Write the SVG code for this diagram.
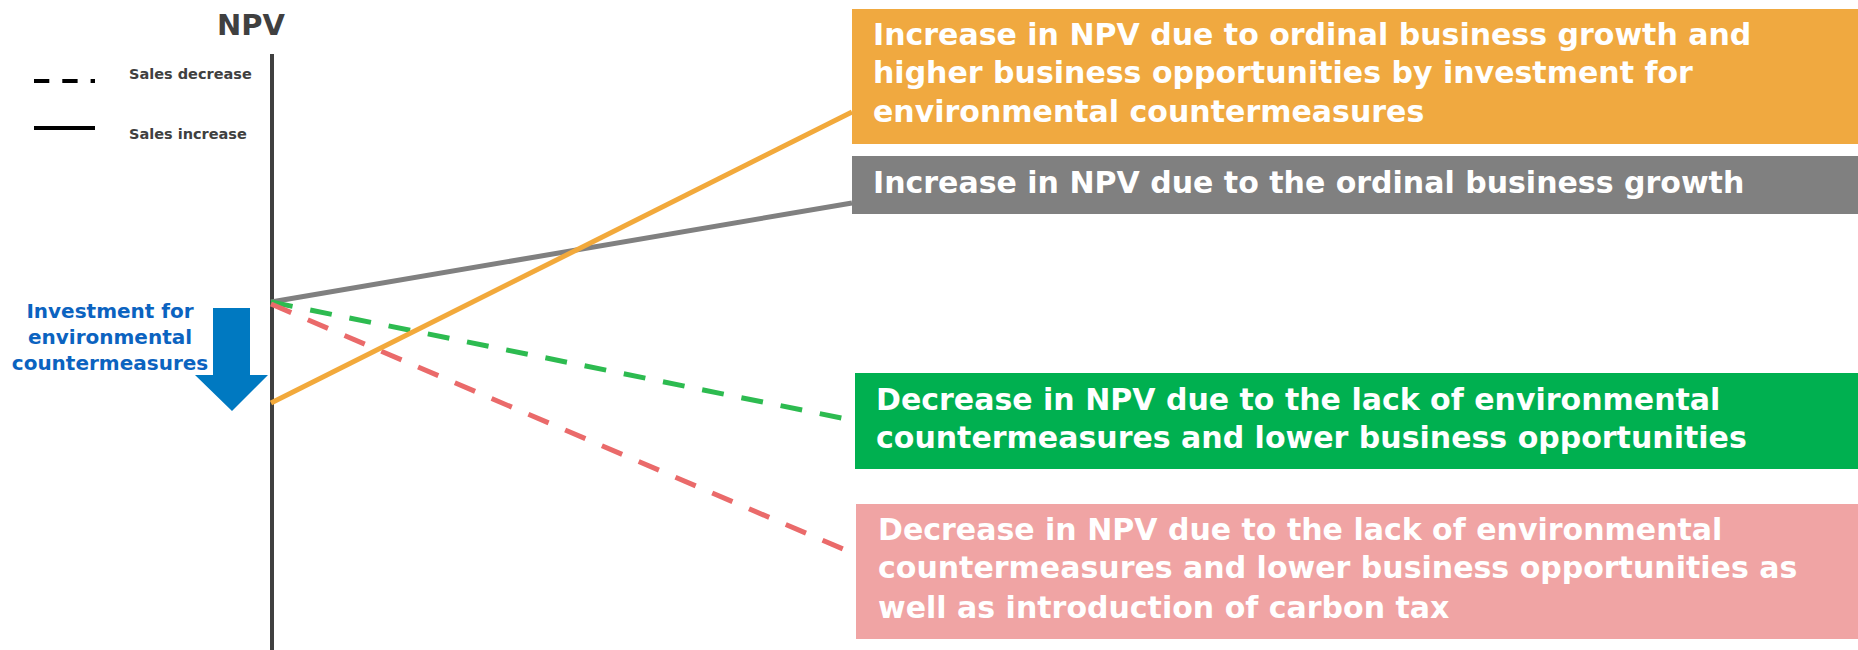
<svg xmlns="http://www.w3.org/2000/svg" width="1858" height="650" viewBox="0 0 1858 650">
<style>
.t{font-family:"DejaVu Sans","Verdana",sans-serif;font-weight:bold}
.box{font-family:"DejaVu Sans","Verdana",sans-serif;font-weight:bold;font-size:30px;fill:#ffffff}
.leg{font-size:14.5px;fill:#404040}
.dash{fill:none;stroke-width:5;stroke-dasharray:22 18}
.solid{fill:none;stroke-width:5}
</style>
<rect width="1858" height="650" fill="#ffffff"/>
<g id="axis">
<line x1="272" y1="54" x2="272" y2="650" stroke="#404040" stroke-width="4"/>
<text class="t" x="251" y="35" font-size="29" fill="#404040" text-anchor="middle">NPV</text>
</g>
<g id="legend">
<line x1="34" y1="81" x2="95" y2="81" stroke="#000" stroke-width="4" stroke-dasharray="15.3 13"/>
<line x1="34" y1="128" x2="95" y2="128" stroke="#000" stroke-width="4"/>
<text class="t leg" x="129" y="79">Sales decrease</text>
<text class="t leg" x="129" y="139">Sales increase</text>
</g>
<g id="investment">
<polygon points="213,308 250,308 250,375 268,375 232,411 195,375 213,375" fill="#0079C1"/>
<text class="t" font-size="20" fill="#0B63C0" text-anchor="middle"><tspan x="110" y="318">Investment for</tspan><tspan x="110" y="344">environmental</tspan><tspan x="110" y="370">countermeasures</tspan></text>
</g>
<g id="connectors">
<line class="solid" x1="271" y1="302" x2="852" y2="203" stroke="#808080"/>
<line class="dash" x1="271" y1="302" x2="856" y2="421" stroke="#2DBB50"/>
<line class="dash" x1="271" y1="304" x2="857" y2="555" stroke="#EA6A6A"/>
<line class="solid" x1="271" y1="403" x2="852" y2="112" stroke="#F2A93B"/>
</g>
<g id="node-orange">
<rect x="852" y="9" width="1006" height="135" fill="#F0A940"/>
<text class="box"><tspan x="873" y="45">Increase in NPV due to ordinal business growth and</tspan><tspan x="873" y="83">higher business opportunities by investment for</tspan><tspan x="873" y="122">environmental countermeasures</tspan></text>
</g>
<g id="node-gray">
<rect x="852" y="156" width="1006" height="58" fill="#808080"/>
<text class="box" x="873" y="193">Increase in NPV due to the ordinal business growth</text>
</g>
<g id="node-green">
<rect x="855" y="373" width="1003" height="96" fill="#00B050"/>
<text class="box"><tspan x="876" y="410">Decrease in NPV due to the lack of environmental</tspan><tspan x="876" y="448">countermeasures and lower business opportunities</tspan></text>
</g>
<g id="node-pink">
<rect x="856" y="504" width="1002" height="135" fill="#F0A4A4"/>
<text class="box"><tspan x="878" y="540">Decrease in NPV due to the lack of environmental</tspan><tspan x="878" y="578">countermeasures and lower business opportunities as</tspan><tspan x="878" y="618">well as introduction of carbon tax</tspan></text>
</g>
</svg>
